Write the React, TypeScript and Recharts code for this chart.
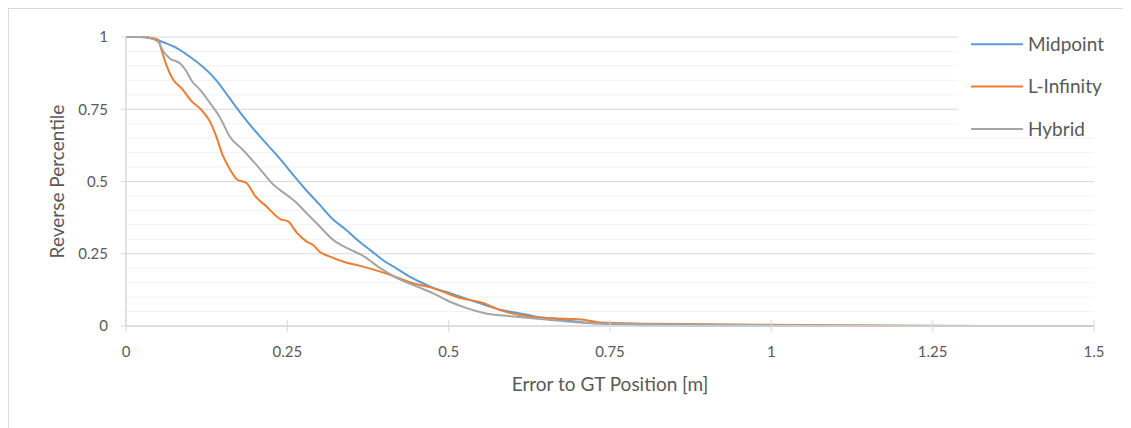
import React from "react";
import {
  LineChart,
  Line,
  XAxis,
  YAxis,
  CartesianGrid,
  Legend,
  Label,
} from "recharts";

// ---------- data ----------
const xTicks = [0, 0.25, 0.5, 0.75, 1, 1.25, 1.5];
const yTicks = [0, 0.25, 0.5, 0.75, 1];
const yMinorTicks = [0.05, 0.1, 0.15, 0.2, 0.3, 0.35, 0.4, 0.45, 0.55, 0.6, 0.65, 0.7, 0.8, 0.85, 0.9, 0.95];

const midpoint = [
  { x: 0, y: 1 }, { x: 0.02, y: 1 }, { x: 0.04, y: 0.995 }, { x: 0.06, y: 0.98 },
  { x: 0.08, y: 0.96 }, { x: 0.1, y: 0.93 }, { x: 0.12, y: 0.895 }, { x: 0.14, y: 0.85 },
  { x: 0.16, y: 0.79 }, { x: 0.18, y: 0.73 }, { x: 0.2, y: 0.675 }, { x: 0.22, y: 0.625 },
  { x: 0.24, y: 0.575 }, { x: 0.26, y: 0.52 }, { x: 0.28, y: 0.468 }, { x: 0.3, y: 0.42 },
  { x: 0.32, y: 0.37 }, { x: 0.34, y: 0.335 }, { x: 0.36, y: 0.295 }, { x: 0.38, y: 0.26 },
  { x: 0.4, y: 0.225 }, { x: 0.42, y: 0.198 }, { x: 0.44, y: 0.17 }, { x: 0.46, y: 0.148 },
  { x: 0.48, y: 0.128 }, { x: 0.5, y: 0.115 }, { x: 0.52, y: 0.1 }, { x: 0.54, y: 0.085 },
  { x: 0.56, y: 0.07 }, { x: 0.58, y: 0.056 }, { x: 0.6, y: 0.048 }, { x: 0.62, y: 0.04 },
  { x: 0.64, y: 0.03 }, { x: 0.66, y: 0.026 }, { x: 0.68, y: 0.02 }, { x: 0.7, y: 0.015 },
  { x: 0.72, y: 0.01 }, { x: 0.75, y: 0.007 }, { x: 0.8, y: 0.003 }, { x: 0.9, y: 0.001 },
  { x: 1.0, y: 0.0005 }, { x: 1.5, y: 0 },
];

const lInfinity = [
  { x: 0, y: 1 }, { x: 0.02, y: 1 }, { x: 0.04, y: 0.997 }, { x: 0.05, y: 0.99 },
  { x: 0.055, y: 0.955 }, { x: 0.063, y: 0.9 }, { x: 0.073, y: 0.853 }, { x: 0.086, y: 0.823 },
  { x: 0.094, y: 0.8 }, { x: 0.102, y: 0.777 }, { x: 0.115, y: 0.752 }, { x: 0.13, y: 0.708 },
  { x: 0.14, y: 0.655 }, { x: 0.15, y: 0.59 }, { x: 0.161, y: 0.542 }, { x: 0.172, y: 0.507 },
  { x: 0.187, y: 0.494 }, { x: 0.2, y: 0.45 }, { x: 0.218, y: 0.413 }, { x: 0.239, y: 0.37 },
  { x: 0.251, y: 0.362 }, { x: 0.265, y: 0.322 }, { x: 0.28, y: 0.292 }, { x: 0.29, y: 0.28 },
  { x: 0.3, y: 0.257 }, { x: 0.316, y: 0.24 }, { x: 0.342, y: 0.219 }, { x: 0.363, y: 0.208 },
  { x: 0.394, y: 0.188 }, { x: 0.42, y: 0.168 }, { x: 0.445, y: 0.148 }, { x: 0.476, y: 0.131 },
  { x: 0.518, y: 0.097 }, { x: 0.553, y: 0.08 }, { x: 0.58, y: 0.055 }, { x: 0.631, y: 0.031 },
  { x: 0.683, y: 0.025 }, { x: 0.714, y: 0.02 }, { x: 0.735, y: 0.012 }, { x: 0.8, y: 0.008 },
  { x: 0.9, y: 0.006 }, { x: 1.0, y: 0.004 }, { x: 1.1, y: 0.003 }, { x: 1.2, y: 0.001 },
  { x: 1.5, y: 0 },
];

const hybrid = [
  { x: 0, y: 1 }, { x: 0.03, y: 1 }, { x: 0.045, y: 0.99 }, { x: 0.05, y: 0.983 },
  { x: 0.058, y: 0.95 }, { x: 0.068, y: 0.926 }, { x: 0.084, y: 0.908 }, { x: 0.094, y: 0.88 },
  { x: 0.102, y: 0.848 }, { x: 0.115, y: 0.817 }, { x: 0.13, y: 0.772 }, { x: 0.146, y: 0.72 },
  { x: 0.161, y: 0.655 }, { x: 0.181, y: 0.61 }, { x: 0.205, y: 0.55 }, { x: 0.228, y: 0.49 },
  { x: 0.25, y: 0.452 }, { x: 0.265, y: 0.425 }, { x: 0.28, y: 0.39 }, { x: 0.3, y: 0.345 },
  { x: 0.321, y: 0.298 }, { x: 0.342, y: 0.27 }, { x: 0.368, y: 0.242 }, { x: 0.394, y: 0.2 },
  { x: 0.42, y: 0.166 }, { x: 0.451, y: 0.136 }, { x: 0.476, y: 0.113 }, { x: 0.502, y: 0.084 },
  { x: 0.528, y: 0.062 }, { x: 0.553, y: 0.046 }, { x: 0.605, y: 0.032 }, { x: 0.657, y: 0.021 },
  { x: 0.708, y: 0.011 }, { x: 0.75, y: 0.008 }, { x: 0.8, y: 0.006 }, { x: 0.9, y: 0.004 },
  { x: 1.0, y: 0.003 }, { x: 1.2, y: 0.001 }, { x: 1.5, y: 0 },
];

const seriesNames = ["Midpoint", "L-Infinity", "Hybrid"];
const seriesColors = ["#5B9BD5", "#ED7D31", "#A5A5A5"];

// ---------- styles ----------
const FONT = "Lato, Carlito, Calibri, 'Open Sans', sans-serif";
const TEXT = "#595959";
const AXIS = "#D9D9D9";
const MINOR = "#F2F2F2";

const XTick = (props: any) => {
  const { x, y, payload } = props;
  return (
    <g>
      <line x1={x} x2={x} y1={y - 12} y2={y} stroke={AXIS} strokeWidth={1} />
      <text x={x} y={y + 25} textAnchor="middle" fill={TEXT} fontSize={15} fontFamily={FONT}>
        {String(payload.value)}
      </text>
    </g>
  );
};

const LegendBox = () => (
  <svg width={173} height={124} style={{ display: "block" }}>
    {seriesNames.map((n, i) => {
      const cy = 24.3 + i * 42.3;
      return (
        <g key={n}>
          <line x1={13} x2={65} y1={cy} y2={cy} stroke={seriesColors[i]} strokeWidth={2} />
          <text x={70} y={cy + 6.8} fill={TEXT} fontSize={19} fontFamily={FONT}>
            {n}
          </text>
        </g>
      );
    })}
  </svg>
);

export default function App() {
  const minorGen = (p: any) => {
    const ya = p && p.yAxis;
    if (ya && typeof ya.scale === "function") return yMinorTicks.map((v) => ya.scale(v));
    const o = p.offset;
    return yMinorTicks.map((v) => o.top + o.height * (1 - v));
  };
  return (
    <div
      style={{
        width: 1140,
        height: 440,
        border: `1px solid ${AXIS}`,
        background: "#fff",
        boxSizing: "border-box",
        fontFamily: FONT,
      }}
    >
      <LineChart
        width={1122}
        height={419}
        margin={{ top: 28, right: 37, left: 0, bottom: 42 }}
      >
        <CartesianGrid
          vertical={false}
          stroke={MINOR}
          strokeWidth={1}
          horizontalCoordinatesGenerator={minorGen}
        />
        <CartesianGrid vertical={false} stroke={AXIS} strokeWidth={1} />
        <XAxis
          type="number"
          dataKey="x"
          domain={[0, 1.5]}
          ticks={xTicks}
          interval={0}
          height={60}
          tickSize={6}
          tickMargin={0}
          tickLine={false}
          axisLine={{ stroke: AXIS, strokeWidth: 1.5 }}
          tick={<XTick />}
        >
          <Label
            content={(p: any) => {
              const vb = p.viewBox;
              return (
                <text
                  x={vb.x + vb.width / 2}
                  y={vb.y + 58 + 7}
                  textAnchor="middle"
                  fill={TEXT}
                  fontSize={19}
                  fontFamily={FONT}
                >
                  Error to GT Position [m]
                </text>
              );
            }}
          />
        </XAxis>
        <YAxis
          type="number"
          domain={[0, 1]}
          ticks={yTicks}
          width={117}
          tickSize={5}
          tickMargin={13}
          axisLine={{ stroke: AXIS, strokeWidth: 1.5 }}
          tickLine={{ stroke: AXIS }}
          tick={{ fill: TEXT, fontSize: 15, fontFamily: FONT }}
          tickFormatter={(v: number) => String(v)}
        >
          <Label
            content={(p: any) => {
              const vb = p.viewBox;
              const cx = vb.x + 47;
              const cy = vb.y + vb.height / 2;
              return (
                <text
                  x={cx}
                  y={cy}
                  textAnchor="middle"
                  dominantBaseline="central"
                  transform={`rotate(-90 ${cx} ${cy})`}
                  fill={TEXT}
                  fontSize={19}
                  fontFamily={FONT}
                >
                  Reverse Percentile
                </text>
              );
            }}
          />
        </YAxis>
        <Legend
          layout="vertical"
          align="center"
          verticalAlign="middle"
          content={() => <LegendBox />}
          wrapperStyle={{
            position: "absolute",
            left: 949,
            top: 11,
            width: 173,
            height: 117,
            backgroundColor: "#fff",
            overflow: "visible",
          }}
        />
        <Line
          data={midpoint}
          dataKey="y"
          name={seriesNames[0]}
          stroke={seriesColors[0]}
          strokeWidth={2}
          dot={false}
          type="monotone"
          isAnimationActive={false}
        />
        <Line
          data={lInfinity}
          dataKey="y"
          name={seriesNames[1]}
          stroke={seriesColors[1]}
          strokeWidth={2}
          dot={false}
          type="monotone"
          isAnimationActive={false}
        />
        <Line
          data={hybrid}
          dataKey="y"
          name={seriesNames[2]}
          stroke={seriesColors[2]}
          strokeWidth={2}
          dot={false}
          type="monotone"
          isAnimationActive={false}
        />
      </LineChart>
    </div>
  );
}
